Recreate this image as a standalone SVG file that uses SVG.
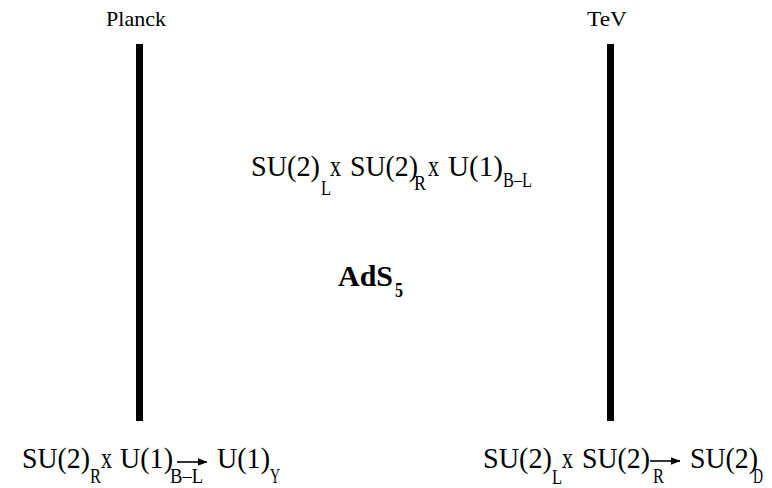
<svg xmlns="http://www.w3.org/2000/svg" width="772" height="488" viewBox="0 0 772 488">
<style>
.t{font-family:"Liberation Serif","Times New Roman",serif;fill:#000}
.big{font-size:30px}
.sub{font-size:21px}
.lab{font-size:22px}
.bold{font-weight:bold}
.brane{fill:#000}
.arr{stroke:#000;stroke-width:1.6;fill:none}
</style>
<defs>
<marker id="ah" viewBox="0 0 10 8" refX="9.5" refY="4" markerWidth="10" markerHeight="8" markerUnits="userSpaceOnUse" orient="auto">
<path d="M0,0 L10,4 L0,8 Z" fill="#000"/>
</marker>
</defs>
<rect width="772" height="488" fill="#fff"/>
<g id="planck">
<rect class="brane" x="136" y="44" width="7" height="377"/>
<text class="t lab" x="106" y="26" textLength="60" lengthAdjust="spacingAndGlyphs">Planck</text>
</g>
<g id="tev">
<rect class="brane" x="607" y="44" width="7" height="377"/>
<text class="t lab" x="587" y="26" textLength="40" lengthAdjust="spacingAndGlyphs">TeV</text>
</g>
<g id="bulk">
<text class="t big" x="251" y="176" textLength="69" lengthAdjust="spacingAndGlyphs">SU(2)</text>
<text class="t sub" x="321" y="195" textLength="10" lengthAdjust="spacingAndGlyphs">L</text>
<text class="t big" x="330" y="176" textLength="11" lengthAdjust="spacingAndGlyphs">x</text>
<text class="t big" x="350" y="176" textLength="68" lengthAdjust="spacingAndGlyphs">SU(2)</text>
<text class="t sub" x="414" y="190" textLength="12" lengthAdjust="spacingAndGlyphs">R</text>
<text class="t big" x="428" y="176" textLength="11" lengthAdjust="spacingAndGlyphs">x</text>
<text class="t big" x="448" y="176" textLength="55" lengthAdjust="spacingAndGlyphs">U(1)</text>
<text class="t sub" x="503" y="187" textLength="29" lengthAdjust="spacingAndGlyphs">B–L</text>
</g>
<g id="ads5">
<text class="t big bold" x="338" y="286" textLength="55" lengthAdjust="spacingAndGlyphs">AdS</text>
<text class="t sub bold" x="395" y="297" textLength="8" lengthAdjust="spacingAndGlyphs">5</text>
</g>
<g id="planck-breaking">
<text class="t big" x="22" y="468" textLength="68" lengthAdjust="spacingAndGlyphs">SU(2)</text>
<text class="t sub" x="90" y="483" textLength="11" lengthAdjust="spacingAndGlyphs">R</text>
<text class="t big" x="101" y="468" textLength="11" lengthAdjust="spacingAndGlyphs">x</text>
<text class="t big" x="120" y="468" textLength="53" lengthAdjust="spacingAndGlyphs">U(1)</text>
<text class="t sub" x="170" y="483" textLength="33" lengthAdjust="spacingAndGlyphs">B–L</text>
<text class="t big" x="217" y="468" textLength="53" lengthAdjust="spacingAndGlyphs">U(1)</text>
<text class="t sub" x="270" y="483" textLength="10" lengthAdjust="spacingAndGlyphs">Y</text>
</g>
<g id="tev-breaking">
<text class="t big" x="483" y="468" textLength="69" lengthAdjust="spacingAndGlyphs">SU(2)</text>
<text class="t sub" x="552" y="484" textLength="10" lengthAdjust="spacingAndGlyphs">L</text>
<text class="t big" x="562" y="468" textLength="11" lengthAdjust="spacingAndGlyphs">x</text>
<text class="t big" x="582" y="468" textLength="68" lengthAdjust="spacingAndGlyphs">SU(2)</text>
<text class="t sub" x="653" y="483" textLength="11" lengthAdjust="spacingAndGlyphs">R</text>
<text class="t big" x="690" y="468" textLength="68" lengthAdjust="spacingAndGlyphs">SU(2)</text>
<text class="t sub" x="753" y="483" textLength="10" lengthAdjust="spacingAndGlyphs">D</text>
</g>
<g id="connectors">
<line class="arr" x1="177" y1="462" x2="207" y2="462" marker-end="url(#ah)"/>
<line class="arr" x1="650" y1="461" x2="680" y2="461" marker-end="url(#ah)"/>
</g>
</svg>
